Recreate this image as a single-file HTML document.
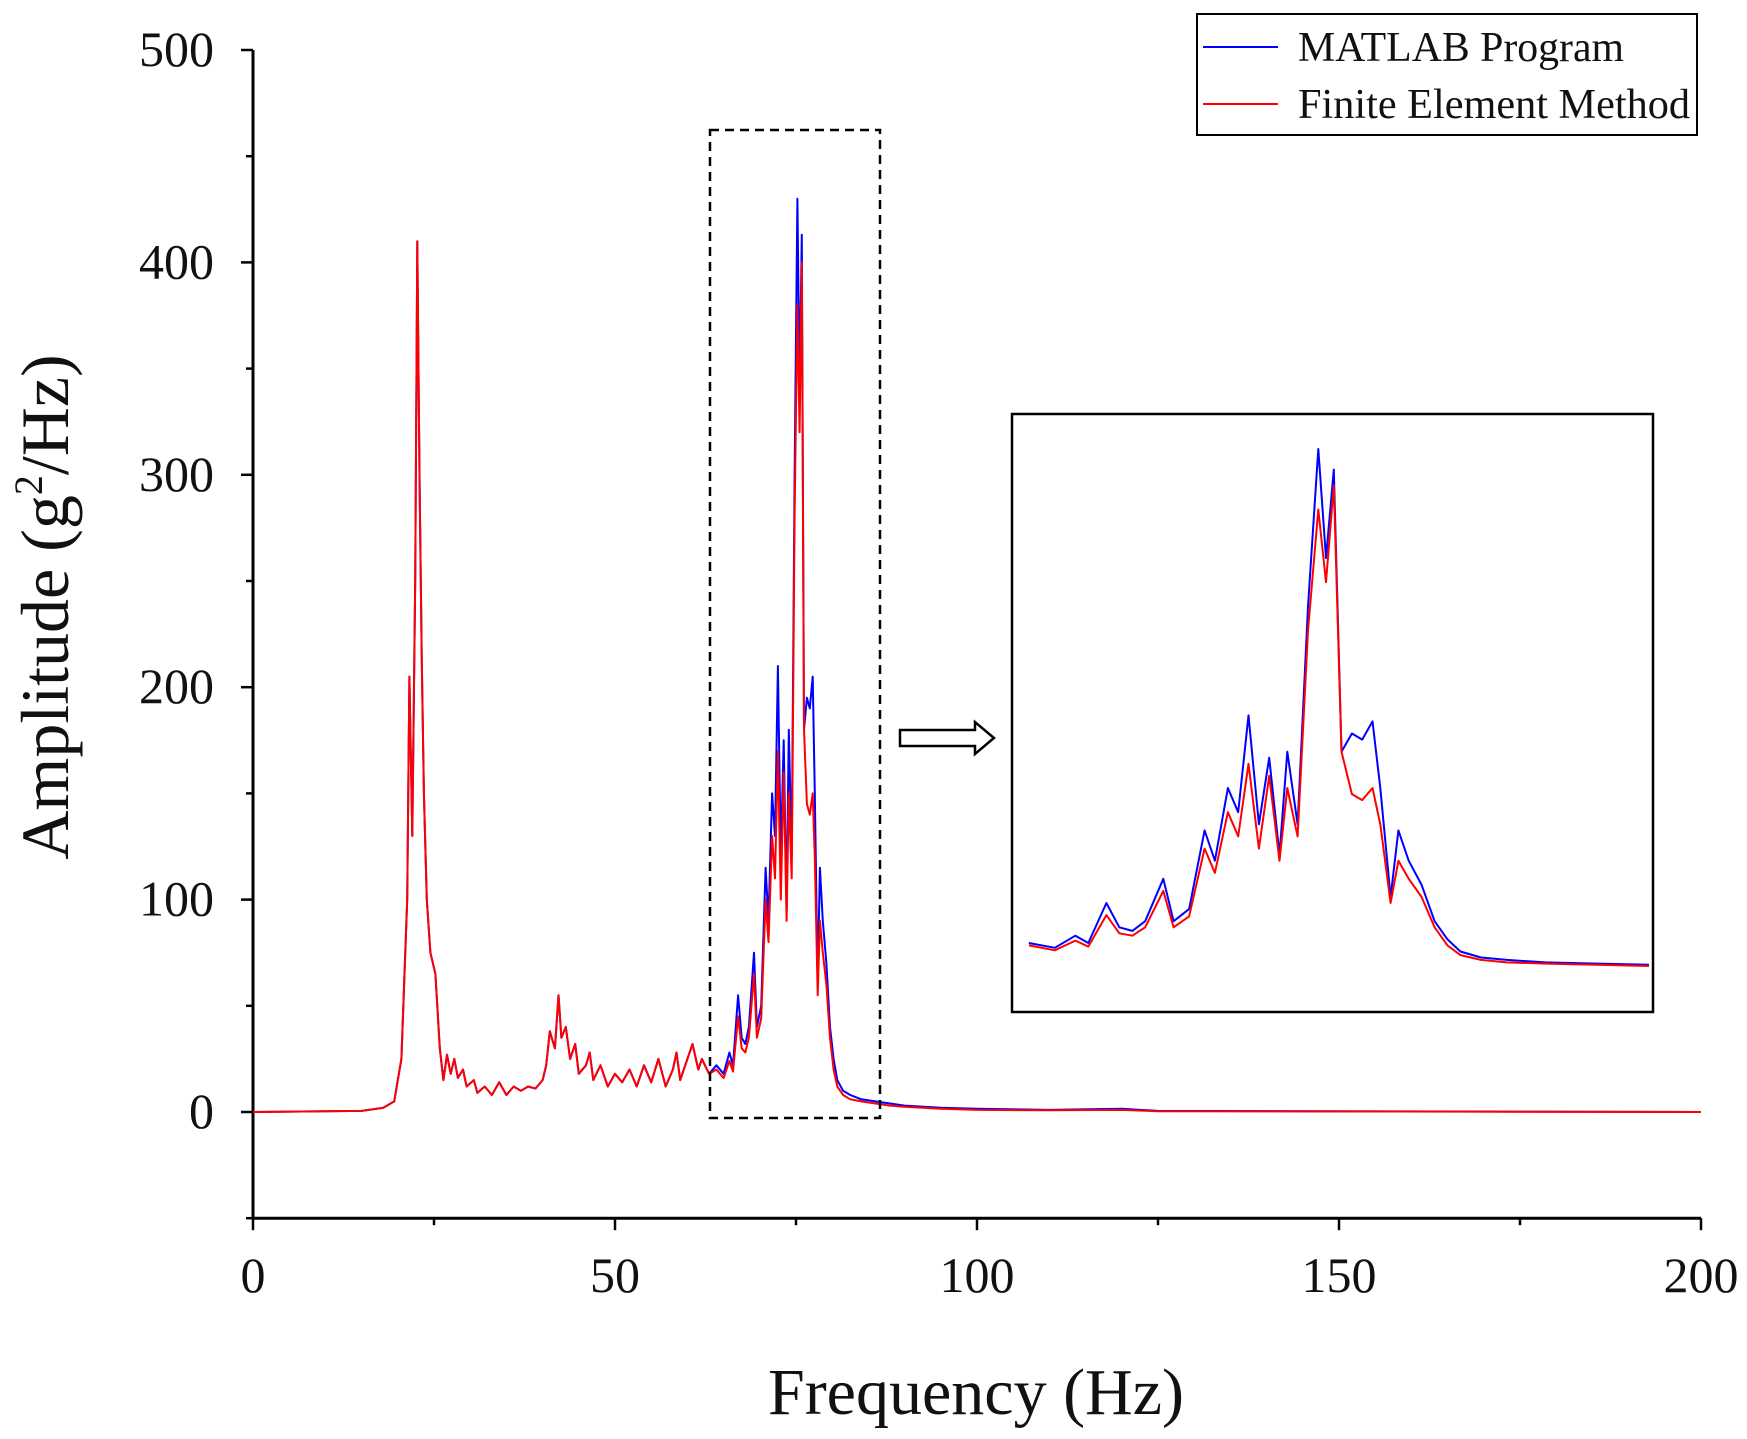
<!DOCTYPE html>
<html><head><meta charset="utf-8"><style>
body{margin:0;background:#fff}
svg{display:block}
text{font-family:"Liberation Serif",serif;fill:#111}
</style></head><body>
<svg id="chart" width="1747" height="1439" viewBox="0 0 1747 1439" xmlns="http://www.w3.org/2000/svg">
<g id="axes"></g>
<g id="main"></g>
<rect x="710" y="130" width="170" height="988" fill="none" stroke="#000" stroke-width="2.5" stroke-dasharray="9,6"/>
<polygon points="900,730 975,730 975,722 994,738 975,754 975,746 900,746" fill="#fff" stroke="#000" stroke-width="2.5"/>
<rect x="1012" y="414" width="641" height="598" fill="#fff" stroke="#000" stroke-width="2.5"/>
<g id="inset"></g>
<g>
<rect x="1197" y="14" width="500" height="121" fill="#fff" stroke="#000" stroke-width="2"/>
<line x1="1203" y1="47" x2="1278" y2="47" stroke="#00f" stroke-width="2"/>
<text x="1298" y="61" font-size="42" textLength="326" lengthAdjust="spacingAndGlyphs">MATLAB Program</text>
<line x1="1203" y1="104" x2="1278" y2="104" stroke="#f00" stroke-width="2"/>
<text x="1298" y="118" font-size="42" textLength="392" lengthAdjust="spacingAndGlyphs">Finite Element Method</text>
</g>
<text x="976" y="1414" font-size="66" text-anchor="middle">Frequency (Hz)</text>
<text transform="translate(68,607) rotate(-90)" font-size="68" text-anchor="middle">Amplitude (g<tspan font-size="40" dy="-26">2</tspan><tspan dy="26">/Hz)</tspan></text>
</svg>
<script>
const freq=[0,15,18,19.5,20.5,21.3,21.6,22,22.4,22.7,23,23.3,23.6,24,24.5,25.2,25.8,26.3,26.8,27.3,27.8,28.3,29,29.5,30.5,31,32,33,34,35,36,37,38,39,40,40.5,41,41.7,42.2,42.6,43.2,43.8,44.5,45,46,46.5,47,48,49,50,51,52,53,54,55,56,57,58,58.5,59,60,60.7,61.5,62,63,64,65,65.8,66.3,67,67.5,68,68.5,69.2,69.6,70.2,70.8,71.2,71.7,72.1,72.5,72.9,73.3,73.7,74,74.4,74.8,75.2,75.5,75.8,76.1,76.5,76.9,77.3,77.6,78,78.3,78.7,79.2,79.7,80.2,80.7,81.5,82.5,84,86,88,90,95,100,110,120,125,200];
const blueVals=[0,0.5,2,5,25,100,205,130,250,410,300,215,150,100,75,65,30,15,27,18,25,16,20,12,15,9,12,8,14,8,12,10,12,11,15,22,38,30,55,35,40,25,32,18,22,28,15,22,12,18,14,20,12,22,14,25,12,20,28,15,25,32,20,25,18,22,18,28,22,55,35,32,40,75,40,50,115,90,150,130,210,120,175,95,180,120,300,430,340,413,180,195,190,205,150,60,115,90,70,40,25,15,10,8,6,5,4,3,2,1.5,1,1.5,0.5,0];
const redVals=[0,0.5,2,5,25,100,205,130,250,410,300,215,150,100,75,65,30,15,27,18,25,16,20,12,15,9,12,8,14,8,12,10,12,11,15,22,38,30,55,35,40,25,32,18,22,28,15,22,12,18,14,20,12,22,14,25,12,20,28,15,25,32,20,25,18,20,16,24,19,45,30,28,35,65,35,44,100,80,130,110,170,100,160,90,150,110,280,380,320,400,180,145,140,150,120,55,90,75,60,35,20,12,8,6,5,4,3,2.5,1.5,1,0.8,1,0.4,0];
const xTicks=[0,50,100,150,200];
const yTicks=[0,100,200,300,400,500];
const NS="http://www.w3.org/2000/svg";
const X=f=>253+f*(1701-253)/200;
const Y=v=>1112-v*(1112-50)/500;
const IX=f=>1016+(f-63.5)*(1649-1016)/(88-63.5);
const IY=v=>966-(v-3)*(966-449)/427;
function mk(tag,parent){const e=document.createElementNS(NS,tag);parent.appendChild(e);return e;}
const axes=document.getElementById('axes');
let l=mk('line',axes);l.setAttribute('x1',253);l.setAttribute('x2',253);l.setAttribute('y1',50);l.setAttribute('y2',Y(-50));l.setAttribute('stroke','#000');l.setAttribute('stroke-width',3);


l=mk('line',axes);l.setAttribute('x1',252);l.setAttribute('x2',1701);l.setAttribute('y1',Y(-50));l.setAttribute('y2',Y(-50));l.setAttribute('stroke','#000');l.setAttribute('stroke-width',3);


for(let v=-50;v<=500;v+=50){const t=mk('line',axes);const maj=v%100===0;t.setAttribute('x1',253);t.setAttribute('x2',253-(maj?12:7));t.setAttribute('y1',Y(v));t.setAttribute('y2',Y(v));t.setAttribute('stroke','#000');t.setAttribute('stroke-width',2.5);

}
yTicks.forEach(v=>{const t=mk('text',axes);t.setAttribute('x',214);t.setAttribute('y',Y(v)+16);t.setAttribute('font-size',50);t.setAttribute('text-anchor','end');t.textContent=v;

});
for(let f=0;f<=200;f+=25){const t=mk('line',axes);const maj=f%50===0;t.setAttribute('x1',X(f));t.setAttribute('x2',X(f));t.setAttribute('y1',Y(-50));t.setAttribute('y2',Y(-50)+(maj?12:7));t.setAttribute('stroke','#000');t.setAttribute('stroke-width',2.5);

}
xTicks.forEach(f=>{const t=mk('text',axes);t.setAttribute('x',X(f));t.setAttribute('y',1292);t.setAttribute('font-size',50);t.setAttribute('text-anchor','middle');t.textContent=f;

});
function series(g,vals,color,fx,fy,name,lo,hi){
  const pts=[];freq.forEach((f,i)=>{if(f>=lo&&f<=hi)pts.push(fx(f).toFixed(1)+','+fy(vals[i]).toFixed(1));});
  const p=mk('polyline',g);p.setAttribute('points',pts.join(' '));p.setAttribute('fill','none');p.setAttribute('stroke',color);p.setAttribute('stroke-width',2);p.setAttribute('stroke-linejoin','round');
  
  
}
const main=document.getElementById('main'),inset=document.getElementById('inset');
series(main,blueVals,'#00f',X,Y,'matlab-line',0,200);
series(main,redVals,'#f00',X,Y,'fem-line',0,200);
series(inset,blueVals,'#00f',IX,IY,'inset-matlab-line',63.5,88);
series(inset,redVals,'#f00',IX,IY,'inset-fem-line',63.5,88);
</script>
</body></html>
